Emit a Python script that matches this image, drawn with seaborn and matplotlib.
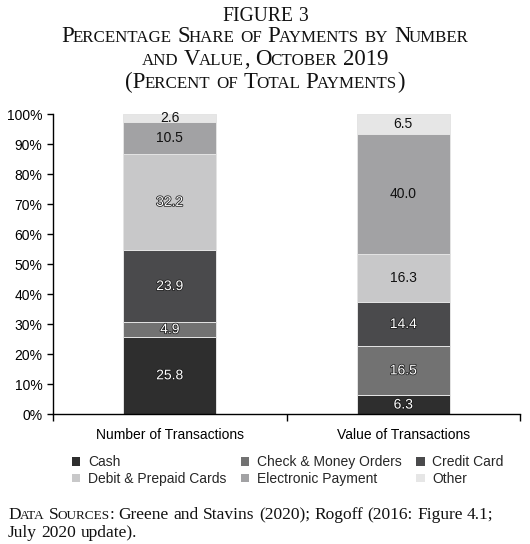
import numpy as np
import pandas as pd
import matplotlib
matplotlib.use("Agg")
import matplotlib.pyplot as plt
import matplotlib.patheffects as pe
from matplotlib.patches import Patch
import seaborn as sns

# ---------------- data ----------------
categories = ["Number of Transactions", "Value of Transactions"]
methods = ["Cash", "Check & Money Orders", "Credit Card",
           "Debit & Prepaid Cards", "Electronic Payment", "Other"]
cash = [25.8, 6.3]
check = [4.9, 16.5]
credit = [23.9, 14.4]
debit = [32.2, 16.3]
electronic = [10.5, 40.0]
other = [2.6, 6.5]
yticks = [0, 10, 20, 30, 40, 50, 60, 70, 80, 90, 100]
ytick_labels = [f"{v}%" for v in yticks]

colors = ["#2e2e2e", "#727272", "#4a4a4c", "#c8c8c9", "#a2a2a4", "#e6e6e6"]
# label styling: True -> white text with dark outline
white_labels = [[True, True], [True, True], [True, True],
                [True, False], [False, False], [False, False]]

W, H = 530, 544
sns.set_theme(style="ticks")
plt.rcParams["font.family"] = ["Liberation Sans", "DejaVu Sans"]

fig = plt.figure(figsize=(W / 100, H / 100), dpi=100)
fig.patch.set_facecolor("white")
ax = fig.add_axes([53 / W, 1 - 414 / H, (520 - 53) / W, 300 / H])

series = [cash, check, credit, debit, electronic, other]
bottom = np.zeros(len(categories))
for name, vals, col in zip(methods, series, colors):
    df = pd.DataFrame({"cat": categories, "val": vals})
    sns.barplot(data=df, x="cat", y="val", color=col, saturation=1,
                bottom=bottom.copy(), width=0.4, ax=ax,
                edgecolor="#e4e4e4", linewidth=0.7, err_kws={"linewidth": 0})
    bottom += np.array(vals)

for cont, vals, wl in zip(ax.containers, series, white_labels):
    texts = ax.bar_label(cont, labels=[f"{v:.1f}" for v in vals],
                         label_type="center", fontsize=10)
    for t, is_white in zip(texts, wl):
        if is_white:
            t.set_color("white")
            t.set_path_effects([pe.withStroke(linewidth=1.1, foreground="#1a1a1a")])
        else:
            t.set_color("#111111")

ax.set_xlim(-0.5, 1.5)
ax.set_ylim(0, 100)
ax.set_yticks(yticks)
ax.set_yticklabels(ytick_labels)
ax.set_xlabel("")
ax.set_ylabel("")
ax.set_xticks([0, 1])
ax.set_xticklabels(categories)
ax.set_xticks([-0.5, 0.5, 1.5], minor=True)
ax.tick_params(axis="x", which="major", length=0, pad=10, labelsize=10, labelcolor="black")
ax.tick_params(axis="x", which="minor", length=5, width=1, color="black", direction="out")
ax.tick_params(axis="y", length=4.5, width=1, pad=3, labelsize=10, color="black", labelcolor="black")
for s in ["top", "right"]:
    ax.spines[s].set_visible(False)
for s in ["left", "bottom"]:
    ax.spines[s].set_color("black")
    ax.spines[s].set_linewidth(1)

# legend
order = [0, 3, 1, 4, 2, 5]
handles = [Patch(facecolor=colors[i], edgecolor="none") for i in order]
labels = [methods[i] for i in order]
fig.legend(handles, labels, ncol=3, loc="center left",
           bbox_to_anchor=(72 / W, 1 - 470.5 / H), frameon=False,
           fontsize=10, handlelength=0.6, handleheight=0.6,
           handletextpad=0.55, columnspacing=1.05, labelspacing=0.2,
           borderpad=0, borderaxespad=0)

# ---------------- small-caps text helper ----------------
renderer = fig.canvas.get_renderer()
SERIF = ["Liberation Serif", "DejaVu Serif"]
_cache = {}
KERN = 0.06  # tighten big->small transitions (fraction of big size in px)


def measure(s, size):
    key = (s, round(size, 4))
    if key not in _cache:
        t = fig.text(0, 0, s, fontsize=size, family=SERIF)
        _cache[key] = t.get_window_extent(renderer).width
        t.remove()
    return _cache[key]


def advance(s, size):
    return measure("|" + s + "|", size) - measure("||", size)


def build_words(segments, big, small):
    chars = []
    for text, mode in segments:
        for ch in text:
            if mode == "sc" and ch.islower():
                chars.append((ch.upper(), small))
            else:
                chars.append((ch, big))
    words, cur = [], []
    for ch, sz in chars:
        if ch == " ":
            words.append(cur)
            cur = []
        else:
            cur.append((ch, sz))
    words.append(cur)
    out = []
    for w in words:
        runs = []
        for ch, sz in w:
            if runs and runs[-1][1] == sz:
                runs[-1][0] += ch
            else:
                runs.append([ch, sz])
        out.append(runs)
    return out


def run_step(w, j, big):
    s, sz = w[j]
    step = advance(s, sz)
    if j + 1 < len(w) and w[j + 1][1] < sz:
        step -= KERN * big * 100 / 72
    return step


def line_width(words, big):
    sp = advance(" ", big)
    total = 0
    for w in words:
        for j in range(len(w)):
            total += run_step(w, j, big)
    return total + sp * (len(words) - 1), sp


def draw_line(segments, big, small, y_top, x=None, cx=None):
    words = build_words(segments, big, small)
    total, sp = line_width(words, big)
    xpos = cx - total / 2 if cx is not None else x
    for w in words:
        for j, (s, sz) in enumerate(w):
            fig.text(xpos / W, 1 - y_top / H, s, fontsize=sz, family=SERIF,
                     ha="left", va="baseline", color="#111111")
            xpos += run_step(w, j, big)
        xpos += sp


def fit_size(segments, ratio, target):
    big = 10.0
    words = build_words(segments, big, big * ratio)
    w, _ = line_width(words, big)
    return big * target / w


# title
fig_size = fit_size([("FIGURE 3", "n")], 1.0, 86)
draw_line([("FIGURE 3", "n")], fig_size, fig_size, 21, cx=265)
ratio = 0.74
l2 = [("Percentage Share of Payments by Number", "sc")]
big = fit_size(l2, ratio, 405)
draw_line(l2, big, big * ratio, 42, cx=265)
draw_line([("and Value, October 2019", "sc")], big, big * ratio, 65, cx=265)
draw_line([("(Percent of Total Payments)", "sc")], big, big * ratio, 88, cx=265)

# footer
f1 = [("Data Sources", "sc"), (": Greene and Stavins (2020); Rogoff (2016: Figure 4.1;", "n")]
fbig = fit_size(f1, 0.76, 485)
draw_line(f1, fbig, fbig * 0.76, 519, x=8)
draw_line([("July 2020 update).", "n")], fbig, fbig * 0.76, 537, x=8)

fig.savefig("out.png", dpi=100, facecolor="white")
